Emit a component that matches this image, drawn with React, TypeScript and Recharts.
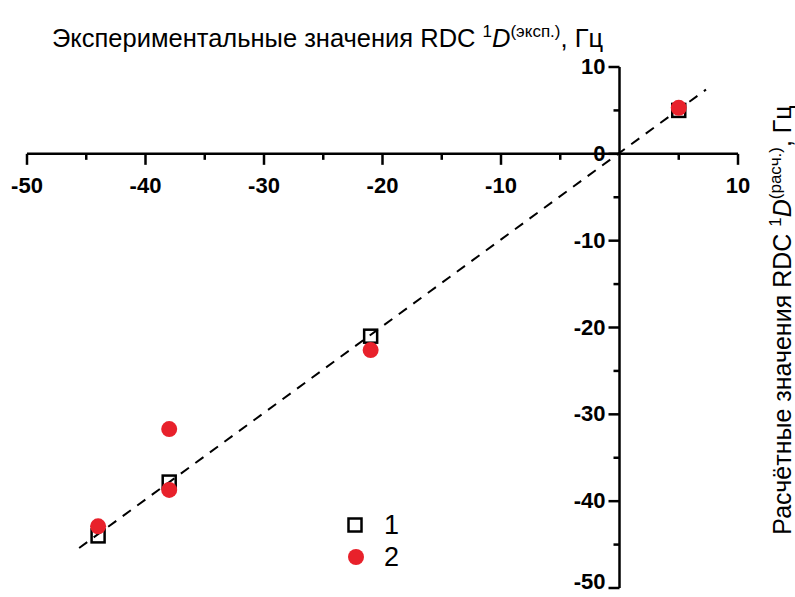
import React from "react";
import {
  ScatterChart,
  Scatter,
  XAxis,
  YAxis,
  ReferenceLine,
  ReferenceDot,
} from "recharts";

// Experimental vs calculated RDC values, Hz
const series1 = [
  { x: 5, y: 5 },
  { x: -21, y: -21 },
  { x: -38, y: -37.8 },
  { x: -44, y: -44 },
];

const series2 = [
  { x: 5, y: 5.3 },
  { x: -21, y: -22.6 },
  { x: -38, y: -31.7 },
  { x: -38, y: -38.7 },
  { x: -44, y: -42.9 },
];

// dashed fit line endpoints
const fitLine = [
  { x: -45.6, y: -45.4 },
  { x: 7.3, y: 7.4 },
];

const xMajor = [-50, -40, -30, -20, -10, 10];
const xMinor = [-45, -35, -25, -15, -5, 5];
const yMajor = [10, 0, -10, -20, -30, -40, -50];
const yMinor = [5, -5, -15, -25, -35, -45];

const FONT = "'Liberation Sans', Arial, sans-serif";
const RED = "#e8212b";
const H = 597;

const SquareShape = (props: any) => {
  const { cx, cy } = props;
  return (
    <rect x={cx - 6.5} y={cy - 6.5} width={13} height={13} fill="#fff" fillOpacity={0} stroke="#000" strokeWidth={2.5} />
  );
};

const CircleShape = (props: any) => {
  const { cx, cy } = props;
  return <circle cx={cx} cy={cy} r={8} fill={RED} />;
};

const xTick = (label: string | null, len: number) => (props: any) => {
  const { cx, cy } = props;
  return (
    <g>
      <line x1={cx} y1={cy} x2={cx} y2={cy + len} stroke="#000" strokeWidth={2.5} />
      {label !== null && (
        <text x={cx} y={cy + 39} textAnchor="middle" fontFamily={FONT} fontWeight="bold" fontSize={22} fill="#000">
          {label}
        </text>
      )}
    </g>
  );
};

const yTick = (label: string | null, len: number) => (props: any) => {
  const { cx, cy } = props;
  // keep the lowest label inside the picture
  const ty = Math.min(cy + 7, H - 8);
  return (
    <g>
      <line x1={cx} y1={cy} x2={cx - len} y2={cy} stroke="#000" strokeWidth={2.5} />
      {label !== null && (
        <text x={cx - 14} y={ty} textAnchor="end" fontFamily={FONT} fontWeight="bold" fontSize={22} fill="#000">
          {label}
        </text>
      )}
    </g>
  );
};

const LegendBox = () => (
  <div
    style={{
      position: "absolute",
      left: 345,
      top: 509,
      fontFamily: FONT,
      fontSize: 27,
      color: "#000",
      lineHeight: "32px",
    }}
  >
    <div style={{ display: "flex", alignItems: "center" }}>
      <svg width={20} height={20}>
        <rect x={3.5} y={3.5} width={13} height={13} fill="none" stroke="#000" strokeWidth={2.5} />
      </svg>
      <span style={{ marginLeft: 19 }}>1</span>
    </div>
    <div style={{ display: "flex", alignItems: "center" }}>
      <svg width={20} height={20}>
        <circle cx={11} cy={10} r={8} fill={RED} />
      </svg>
      <span style={{ marginLeft: 19 }}>2</span>
    </div>
  </div>
);

export default function App() {
  return (
    <div style={{ position: "absolute", left: 0, top: 0, width: 795, height: H, background: "#fff", fontFamily: FONT }}>
      <ScatterChart width={795} height={H} margin={{ top: 67, right: 57, bottom: 9, left: 27 }}>
        <XAxis type="number" dataKey="x" domain={[-50, 10]} hide />
        <YAxis type="number" dataKey="y" domain={[-50, 10]} hide />

        <ReferenceLine y={0} stroke="#000" strokeWidth={2.5} />
        <ReferenceLine x={0} stroke="#000" strokeWidth={2.5} />

        {xMajor.map((v) => (
          <ReferenceDot key={`xM${v}`} x={v} y={0} r={0} ifOverflow="visible" shape={xTick(String(v), 11)} />
        ))}
        {xMinor.map((v) => (
          <ReferenceDot key={`xm${v}`} x={v} y={0} r={0} ifOverflow="visible" shape={xTick(null, 6)} />
        ))}
        {yMajor.map((v) => (
          <ReferenceDot key={`yM${v}`} x={0} y={v} r={0} ifOverflow="visible" shape={yTick(String(v), 11)} />
        ))}
        {yMinor.map((v) => (
          <ReferenceDot key={`ym${v}`} x={0} y={v} r={0} ifOverflow="visible" shape={yTick(null, 6)} />
        ))}

        <ReferenceLine
          segment={fitLine}
          stroke="#000"
          strokeWidth={2}
          strokeDasharray="10 8"
          ifOverflow="visible"
        />

        <Scatter name="1" data={series1} shape={<SquareShape />} isAnimationActive={false} />
        <Scatter name="2" data={series2} shape={<CircleShape />} isAnimationActive={false} />
      </ScatterChart>

      <LegendBox />

      <div
        style={{
          position: "absolute",
          left: 52,
          top: 16,
          fontSize: 25.5,
          lineHeight: "32px",
          whiteSpace: "nowrap",
          color: "#000",
        }}
      >
        Экспериментальные значения RDC <sup style={{ fontSize: 17 }}>1</sup>
        <i>D</i>
        <sup style={{ fontSize: 17 }}>(эксп.)</sup>, Гц
      </div>

      <div
        style={{
          position: "absolute",
          left: 779,
          top: 320,
          transform: "translate(-50%, -50%) rotate(-90deg)",
          fontSize: 25,
          lineHeight: "30px",
          whiteSpace: "nowrap",
          color: "#000",
        }}
      >
        Расчётные значения RDC <sup style={{ fontSize: 17 }}>1</sup>
        <i>D</i>
        <sup style={{ fontSize: 17 }}>(расч.)</sup>, Гц
      </div>
    </div>
  );
}
